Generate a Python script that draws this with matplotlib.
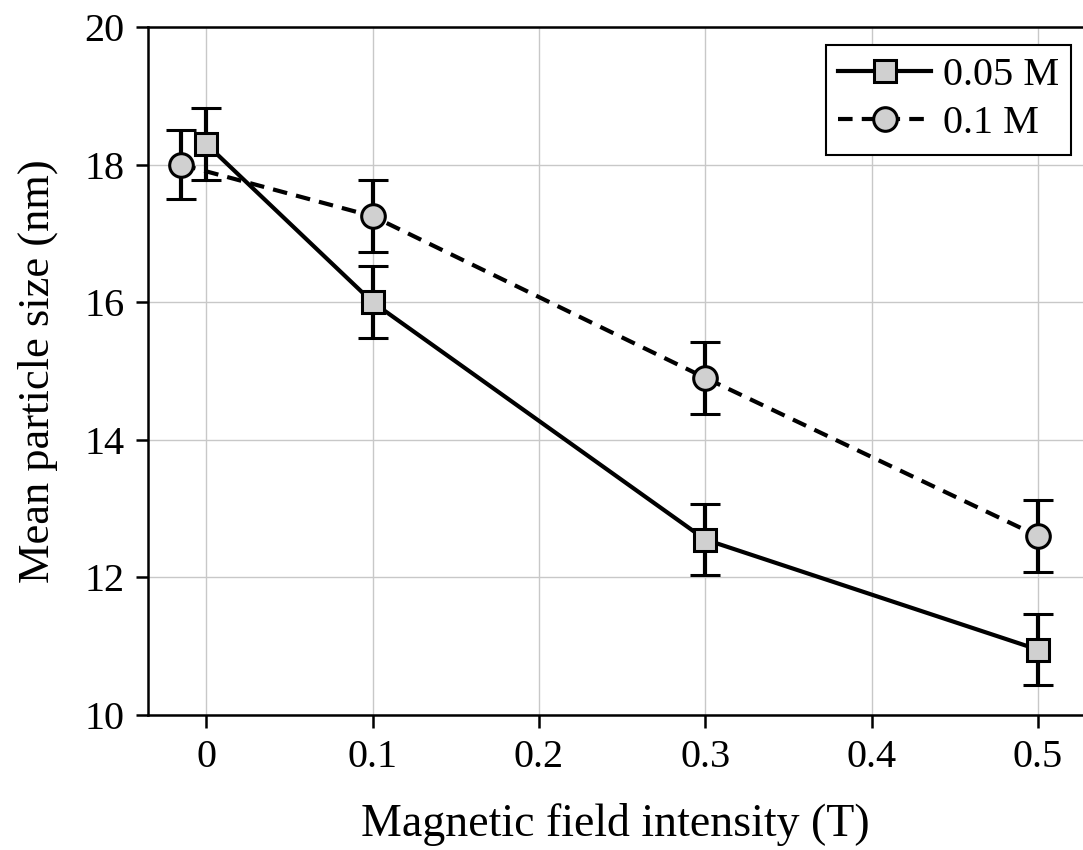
import matplotlib.pyplot as plt
from matplotlib.lines import Line2D

plt.rcParams['font.family'] = ['Liberation Serif', 'DejaVu Serif']

# Data
field_a = [0.0, 0.1, 0.3, 0.5]
size_a = [18.3, 16.0, 12.55, 10.95]
err_a = [0.52, 0.52, 0.52, 0.52]

field_b = [-0.015, 0.1, 0.3, 0.5]
size_b = [18.0, 17.25, 14.9, 12.6]
err_b = [0.5, 0.52, 0.52, 0.52]

dash = (0, (3.5, 2.2))
grey = '#d0d0d0'

fig = plt.figure(figsize=(10.83, 8.5), dpi=100)
ax = fig.add_axes([0.1367, 0.1588, 0.8633, 0.8094])

ax.errorbar(field_a, size_a, yerr=err_a, color='black', lw=3, ls='-',
            marker='s', ms=16, mfc=grey, mec='black', mew=2.2,
            capsize=11, capthick=3, elinewidth=3, zorder=3)
ax.errorbar(field_b, size_b, yerr=err_b, color='black', lw=3, ls=dash,
            marker='o', ms=17, mfc=grey, mec='black', mew=2.2,
            capsize=11, capthick=3, elinewidth=3, zorder=3)

ax.set_xlim(-0.035, 0.527)
ax.set_ylim(10, 20)
ax.set_xticks([0, 0.1, 0.2, 0.3, 0.4, 0.5])
ax.set_xticklabels(['0', '0.1', '0.2', '0.3', '0.4', '0.5'])
ax.set_yticks([10, 12, 14, 16, 18, 20])
ax.grid(True, color='#c8c8c8', lw=1)
ax.set_axisbelow(True)
ax.spines['right'].set_visible(False)
for s in ['left', 'bottom', 'top']:
    ax.spines[s].set_linewidth(1.8)
ax.tick_params(labelsize=29, width=1.8, length=9, direction='out', pad=8)

ax.set_xlabel('Magnetic field intensity (T)', fontsize=33, labelpad=20)
ax.set_ylabel('Mean particle size (nm)', fontsize=32, labelpad=19)

handles = [
    Line2D([], [], color='black', lw=3, ls='-', marker='s', ms=16,
           mfc=grey, mec='black', mew=2.2),
    Line2D([], [], color='black', lw=3, ls=dash, marker='o', ms=17,
           mfc=grey, mec='black', mew=2.2),
]
leg = ax.legend(handles, ['0.05 M', '0.1 M'], loc='upper right', fontsize=29,
                fancybox=False, framealpha=1, edgecolor='black', handlelength=2.3,
                borderpad=0.3, labelspacing=0.28, handletextpad=0.3,
                borderaxespad=0.2, bbox_to_anchor=(0.996, 0.986))
leg.get_frame().set_linewidth(1.5)

fig.savefig('out.png', dpi=100)
